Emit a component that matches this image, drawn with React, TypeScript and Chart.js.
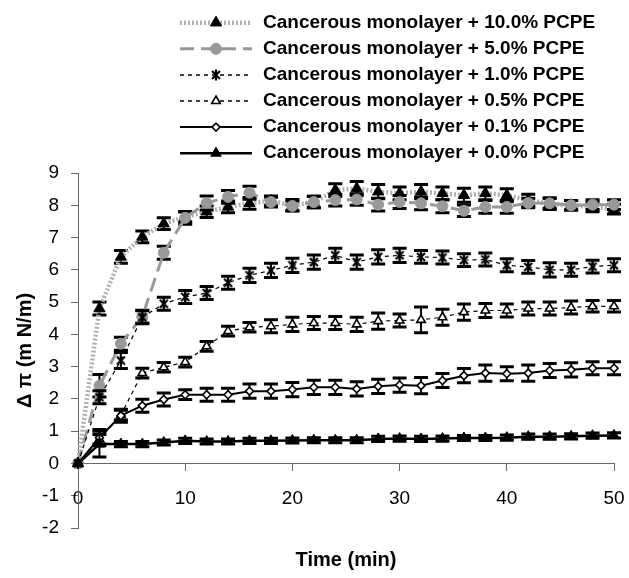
import React, { useEffect, useRef } from 'react';
import { Chart, registerables } from 'chart.js';

Chart.register(...registerables);

// ---------------- data ----------------
const TIME = [0, 2, 4, 6, 8, 10, 12, 14, 16, 18, 20, 22, 24, 26, 28, 30, 32, 34, 36, 38, 40, 42, 44, 46, 48, 50];

const SERIES_LABELS = [
  'Cancerous monolayer + 10.0% PCPE',
  'Cancerous monolayer + 5.0% PCPE',
  'Cancerous monolayer + 1.0% PCPE',
  'Cancerous monolayer + 0.5% PCPE',
  'Cancerous monolayer + 0.1% PCPE',
  'Cancerous monolayer + 0.0% PCPE',
];

const PCPE_10 = [0, 4.8, 6.4, 7.02, 7.43, 7.64, 7.8, 7.95, 8.06, 8.14, 8.0, 8.1, 8.47, 8.52, 8.42, 8.37, 8.42, 8.37, 8.31, 8.37, 8.31, 8.16, 8.05, 8.0, 7.95, 7.88];
const PCPE_5 = [0, 2.41, 3.71, 4.55, 6.53, 7.61, 8.07, 8.26, 8.39, 8.1, 7.98, 8.1, 8.16, 8.18, 8.02, 8.1, 8.06, 7.97, 7.83, 7.95, 7.95, 8.07, 8.06, 8.0, 8.02, 8.02];
const PCPE_1 = [0, 2.05, 3.19, 4.53, 4.95, 5.16, 5.28, 5.6, 5.83, 5.98, 6.14, 6.24, 6.45, 6.24, 6.4, 6.45, 6.4, 6.38, 6.3, 6.32, 6.14, 6.09, 6.0, 6.0, 6.1, 6.14];
const PCPE_05 = [0, 0.75, 1.5, 2.8, 2.98, 3.14, 3.63, 4.1, 4.22, 4.25, 4.31, 4.35, 4.35, 4.31, 4.41, 4.43, 4.45, 4.53, 4.69, 4.74, 4.74, 4.8, 4.8, 4.83, 4.87, 4.87];
const PCPE_01 = [0, 0.8, 1.48, 1.79, 1.98, 2.13, 2.13, 2.13, 2.24, 2.24, 2.29, 2.36, 2.36, 2.31, 2.39, 2.43, 2.41, 2.57, 2.72, 2.8, 2.78, 2.8, 2.88, 2.9, 2.95, 2.95];
const PCPE_0 = [0, 0.6, 0.6, 0.6, 0.65, 0.7, 0.68, 0.68, 0.7, 0.7, 0.71, 0.72, 0.72, 0.72, 0.76, 0.77, 0.76, 0.77, 0.79, 0.79, 0.8, 0.83, 0.83, 0.84, 0.86, 0.87];

const ERR_10 = [0, 0.2, 0.2, 0.18, 0.18, 0.15, 0.18, 0.18, 0.18, 0.15, 0.18, 0.18, 0.2, 0.22, 0.22, 0.2, 0.22, 0.2, 0.22, 0.2, 0.2, 0.18, 0.18, 0.15, 0.15, 0.15];
const ERR_5 = [0, 0.35, 0.2, 0.2, 0.2, 0.2, 0.22, 0.2, 0.2, 0.15, 0.15, 0.18, 0.18, 0.18, 0.2, 0.2, 0.2, 0.2, 0.18, 0.2, 0.2, 0.15, 0.15, 0.15, 0.15, 0.15];
const ERR_1 = [0, 0.2, 0.25, 0.2, 0.2, 0.2, 0.2, 0.2, 0.22, 0.22, 0.22, 0.22, 0.22, 0.22, 0.22, 0.22, 0.2, 0.2, 0.2, 0.2, 0.2, 0.2, 0.22, 0.2, 0.2, 0.2];
const ERR_05 = [0, 0.15, 0.15, 0.15, 0.15, 0.15, 0.15, 0.15, 0.15, 0.2, 0.22, 0.2, 0.2, 0.22, 0.25, 0.2, 0.4, 0.25, 0.25, 0.22, 0.2, 0.2, 0.2, 0.2, 0.18, 0.18];
const ERR_01 = [0, 0.25, 0.2, 0.2, 0.2, 0.15, 0.2, 0.2, 0.22, 0.22, 0.22, 0.22, 0.22, 0.22, 0.22, 0.22, 0.25, 0.22, 0.22, 0.25, 0.22, 0.25, 0.22, 0.22, 0.2, 0.2];
const ERR_0 = [0, 0.4, 0.08, 0.08, 0.08, 0.08, 0.08, 0.08, 0.08, 0.08, 0.08, 0.08, 0.08, 0.08, 0.08, 0.08, 0.08, 0.08, 0.08, 0.08, 0.08, 0.08, 0.08, 0.08, 0.08, 0.08];

const X_MIN = 0;
const X_MAX = 50;
const X_STEP = 10;
const Y_MIN = -2;
const Y_MAX = 9;
const Y_STEP = 1;
const X_TITLE = 'Time (min)';
const Y_TITLE = 'Δ π (m N/m)';

// ---------------- styling ----------------
const FONT = "'Liberation Sans', Arial, Helvetica, sans-serif";
const W = 629;
const H = 578;

function makeStarCanvas(): HTMLCanvasElement {
  const c = document.createElement('canvas');
  c.width = 12;
  c.height = 12;
  const g = c.getContext('2d')!;
  g.strokeStyle = '#000';
  g.lineWidth = 2.2;
  g.beginPath();
  g.moveTo(2, 2);
  g.lineTo(10, 10);
  g.moveTo(10, 2);
  g.lineTo(2, 10);
  g.moveTo(6, 0.5);
  g.lineTo(6, 11.5);
  g.stroke();
  return c;
}

function drawMarker(ctx: CanvasRenderingContext2D, ds: any, x: number, y: number) {
  const style = ds.pointStyle;
  const r = ds.pointRadius;
  ctx.save();
  ctx.setLineDash([]);
  ctx.fillStyle = ds.pointBackgroundColor;
  ctx.strokeStyle = ds.pointBorderColor;
  ctx.lineWidth = ds.pointBorderWidth;
  if (typeof style === 'object') {
    ctx.drawImage(style, x - style.width / 2, y - style.height / 2);
  } else {
    ctx.beginPath();
    if (style === 'circle') {
      ctx.arc(x, y, r, 0, Math.PI * 2);
    } else if (style === 'triangle') {
      let a = 0;
      ctx.moveTo(x + Math.sin(a) * r, y - Math.cos(a) * r);
      a += (2 * Math.PI) / 3;
      ctx.lineTo(x + Math.sin(a) * r, y - Math.cos(a) * r);
      a += (2 * Math.PI) / 3;
      ctx.lineTo(x + Math.sin(a) * r, y - Math.cos(a) * r);
      ctx.closePath();
    } else if (style === 'rectRot') {
      ctx.moveTo(x - r, y);
      ctx.lineTo(x, y - r);
      ctx.lineTo(x + r, y);
      ctx.lineTo(x, y + r);
      ctx.closePath();
    }
    ctx.fill();
    if (ds.pointBorderWidth) ctx.stroke();
  }
  ctx.restore();
}

const errorBarPlugin = {
  id: 'errorBars',
  beforeDatasetDraw(chart: any, args: any) {
    const ds = chart.data.datasets[args.index];
    const errs: number[] | undefined = ds.errors;
    if (!errs) return;
    const yScale = chart.scales.y;
    const ctx = chart.ctx as CanvasRenderingContext2D;
    ctx.save();
    ctx.strokeStyle = '#000';
    ctx.setLineDash([]);
    args.meta.data.forEach((el: any, i: number) => {
      const e = errs[i];
      if (!e) return;
      const v = ds.data[i].y;
      const x = el.x;
      const yt = yScale.getPixelForValue(v + e);
      const yb = yScale.getPixelForValue(v - e);
      ctx.lineWidth = 2;
      ctx.beginPath();
      ctx.moveTo(x, yt);
      ctx.lineTo(x, yb);
      ctx.stroke();
      ctx.lineWidth = 3;
      ctx.beginPath();
      ctx.moveTo(x - 7, yt);
      ctx.lineTo(x + 7, yt);
      ctx.moveTo(x - 7, yb);
      ctx.lineTo(x + 7, yb);
      ctx.stroke();
    });
    ctx.restore();
  },
};

const LEGEND_X0 = 180;
const LEGEND_X1 = 252;
const LEGEND_MARK_X = 216;
const LEGEND_TEXT_X = 263;
const LEGEND_TOP = 22.7;
const LEGEND_ROW = 26.1;

const legendPlugin = {
  id: 'seriesLegend',
  afterDraw(chart: any) {
    const ctx = chart.ctx as CanvasRenderingContext2D;
    chart.data.datasets.forEach((ds: any, i: number) => {
      const y = LEGEND_TOP + i * LEGEND_ROW;
      ctx.save();
      ctx.strokeStyle = ds.borderColor;
      ctx.lineWidth = Math.max(ds.borderWidth, 1.5);
      ctx.setLineDash(ds.borderDash || []);
      ctx.beginPath();
      ctx.moveTo(LEGEND_X0, y);
      ctx.lineTo(LEGEND_X1, y);
      ctx.stroke();
      ctx.restore();
      drawMarker(ctx, ds, LEGEND_MARK_X, y);
      ctx.save();
      ctx.fillStyle = '#000';
      ctx.font = `bold 19px ${FONT}`;
      ctx.textBaseline = 'middle';
      ctx.textAlign = 'left';
      ctx.fillText(ds.label, LEGEND_TEXT_X, y);
      ctx.restore();
    });
  },
};

function pts(values: number[]) {
  return TIME.map((t, i) => ({ x: t, y: values[i] }));
}

export default function App() {
  const ref = useRef<HTMLCanvasElement | null>(null);

  useEffect(() => {
    if (!ref.current) return;
    const star = makeStarCanvas();
    const common = { tension: 0, clip: false as any, pointHoverRadius: 0 };
    const datasets: any[] = [
      {
        ...common,
        label: SERIES_LABELS[0],
        data: pts(PCPE_10),
        errors: ERR_10,
        borderColor: '#b0b0b0',
        borderWidth: 4.5,
        borderDash: [2, 2],
        pointStyle: 'triangle',
        pointRadius: 6.5,
        pointBackgroundColor: '#000',
        pointBorderColor: '#000',
        pointBorderWidth: 1,
        order: 6,
      },
      {
        ...common,
        label: SERIES_LABELS[1],
        data: pts(PCPE_5),
        errors: ERR_5,
        borderColor: '#999999',
        borderWidth: 3,
        borderDash: [14, 7],
        pointStyle: 'circle',
        pointRadius: 5.5,
        pointBackgroundColor: '#999999',
        pointBorderColor: '#999999',
        pointBorderWidth: 1,
        order: 5,
      },
      {
        ...common,
        label: SERIES_LABELS[2],
        data: pts(PCPE_1),
        errors: ERR_1,
        borderColor: '#000',
        borderWidth: 1.2,
        borderDash: [4, 4],
        pointStyle: star,
        pointRadius: 6,
        pointBackgroundColor: '#000',
        pointBorderColor: '#000',
        pointBorderWidth: 1,
        order: 4,
      },
      {
        ...common,
        label: SERIES_LABELS[3],
        data: pts(PCPE_05),
        errors: ERR_05,
        borderColor: '#000',
        borderWidth: 1.2,
        borderDash: [4, 4],
        pointStyle: 'triangle',
        pointRadius: 5,
        pointBackgroundColor: '#fff',
        pointBorderColor: '#000',
        pointBorderWidth: 1.6,
        order: 3,
      },
      {
        ...common,
        label: SERIES_LABELS[4],
        data: pts(PCPE_01),
        errors: ERR_01,
        borderColor: '#000',
        borderWidth: 2,
        borderDash: [],
        pointStyle: 'rectRot',
        pointRadius: 4,
        pointBackgroundColor: '#fff',
        pointBorderColor: '#000',
        pointBorderWidth: 1.6,
        order: 2,
      },
      {
        ...common,
        label: SERIES_LABELS[5],
        data: pts(PCPE_0),
        errors: ERR_0,
        borderColor: '#000',
        borderWidth: 2.5,
        borderDash: [],
        pointStyle: 'triangle',
        pointRadius: 6,
        pointBackgroundColor: '#000',
        pointBorderColor: '#000',
        pointBorderWidth: 1,
        order: 1,
      },
    ];

    const chart = new Chart(ref.current, {
      type: 'line',
      data: { datasets },
      options: {
        animation: false,
        responsive: false,
        maintainAspectRatio: false,
        devicePixelRatio: 1,
        events: [],
        font: { family: FONT },
        layout: { padding: { top: 173, right: 15, bottom: 0, left: 0 } },
        plugins: {
          legend: { display: false },
          tooltip: { enabled: false },
          title: {
            display: true,
            text: X_TITLE,
            position: 'bottom',
            fullSize: false,
            color: '#000',
            font: { family: FONT, size: 20, weight: 'bold', lineHeight: 1.2 },
            padding: { top: 20, bottom: 6 },
          },
        },
        scales: {
          x: {
            type: 'linear',
            min: X_MIN,
            max: X_MAX,
            position: { y: 0 } as any,
            border: { display: true, color: '#666', width: 1 },
            grid: { drawOnChartArea: false, drawTicks: true, tickLength: 7, color: '#666', lineWidth: 1 },
            ticks: {
              stepSize: X_STEP,
              color: '#000',
              padding: 17,
              maxRotation: 0,
              autoSkip: false,
              font: { family: FONT, size: 19, lineHeight: 1.2 },
            },
            afterFit: (s: any) => {
              s.height = 0;
              s.paddingLeft = 0;
              s.paddingRight = 0;
            },
          } as any,
          y: {
            type: 'linear',
            min: Y_MIN,
            max: Y_MAX,
            position: 'left',
            border: { display: true, color: '#666', width: 1 },
            grid: { drawOnChartArea: false, drawTicks: true, tickLength: 7, color: '#666', lineWidth: 1 },
            ticks: {
              stepSize: Y_STEP,
              color: '#000',
              padding: 12,
              font: { family: FONT, size: 19, lineHeight: 1.2 },
            },
            title: {
              display: true,
              text: Y_TITLE,
              color: '#000',
              font: { family: FONT, size: 20, weight: 'bold', lineHeight: 1.2 },
              padding: { top: 13, bottom: 0 },
            },
            afterFit: (s: any) => {
              s.width = 78;
            },
          } as any,
        },
      },
      plugins: [errorBarPlugin, legendPlugin],
    });

    return () => {
      chart.destroy();
    };
  }, []);

  return (
    <div style={{ position: 'absolute', left: 0, top: 0, width: W, height: H, background: '#fff' }}>
      <canvas ref={ref} width={W} height={H} style={{ width: W, height: H, display: 'block' }} />
    </div>
  );
}
